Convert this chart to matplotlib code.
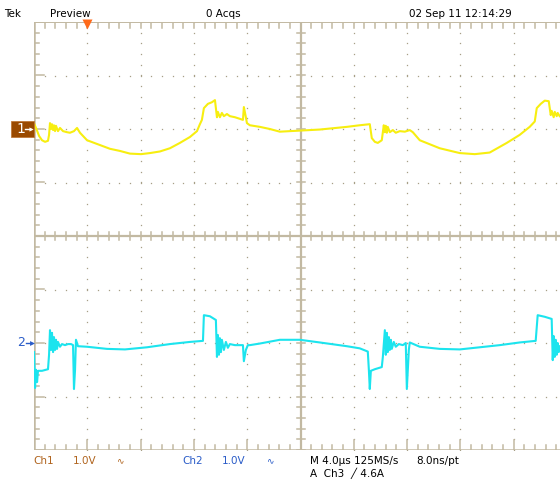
import numpy as np
import matplotlib
matplotlib.use("Agg")
import matplotlib.pyplot as plt
from matplotlib.patches import Rectangle

# ---- acquisition record (time in us from left edge of screen, volts) ----
ch1_t = [0.00, 0.15, 0.38, 0.60, 0.83, 1.05, 1.13, 1.20, 1.28, 1.35, 1.43, 1.50, 1.58, 1.65,
         1.80, 1.95, 2.18, 2.48, 2.70, 3.00, 3.23, 3.45, 3.98, 4.95, 5.70, 6.45, 7.20, 8.03,
         8.70, 9.45, 10.20, 10.95, 11.70, 12.23, 12.45, 12.60, 12.75, 13.05, 13.35, 13.58,
         13.73, 13.80, 13.95, 14.10, 14.25, 14.48, 14.70, 15.08, 15.45, 15.68, 15.75, 15.90,
         15.98, 16.20, 16.95, 17.70, 18.45, 19.95, 21.45, 23.48, 24.45, 25.20, 25.35, 25.58,
         25.80, 26.10, 26.25, 26.33, 26.40, 26.48, 26.55, 26.70, 26.93, 27.15, 27.45, 27.83,
         28.20, 28.43, 28.95, 30.45, 31.95, 33.08, 34.20, 35.48, 36.45, 37.20, 37.58, 37.73,
         38.03, 38.33, 38.63, 38.78, 38.85, 39.00, 39.08, 39.23, 39.30, 39.45]
ch1_v = [0.11, 0.02, -0.13, -0.21, -0.24, -0.22, -0.11, 0.11, 0.00, 0.09, -0.02, 0.07, -0.04, 0.06,
         -0.04, 0.02, -0.04, -0.06, -0.07, -0.04, 0.02, -0.07, -0.21, -0.30, -0.37, -0.41, -0.46, -0.47,
         -0.45, -0.42, -0.36, -0.26, -0.15, -0.04, 0.09, 0.17, 0.39, 0.47, 0.50, 0.54,
         0.22, 0.32, 0.22, 0.30, 0.24, 0.28, 0.24, 0.22, 0.19, 0.17, 0.41, 0.22,
         0.11, 0.07, 0.04, 0.00, -0.05, -0.03, -0.01, 0.04, 0.07, 0.09, -0.17, -0.24,
         -0.26, -0.21, 0.07, -0.06, 0.06, -0.07, 0.04, -0.06, -0.02, -0.07, -0.04, -0.05,
         -0.02, -0.06, -0.21, -0.36, -0.45, -0.47, -0.44, -0.26, -0.11, 0.04, 0.14, 0.39,
         0.47, 0.53, 0.52, 0.26, 0.34, 0.22, 0.32, 0.24, 0.30, 0.24]

ch2_t = [0.00, 0.08, 0.15, 0.23, 0.30, 0.60, 0.90, 1.05, 1.13, 1.20, 1.28, 1.35, 1.43, 1.50,
         1.58, 1.65, 1.73, 1.80, 1.95, 2.10, 2.33, 2.55, 2.78, 2.93, 3.00, 3.08, 3.15, 3.30,
         3.98, 5.48, 6.83, 8.48, 10.20, 11.70, 12.68, 12.75, 13.20, 13.65, 13.73, 13.80,
         13.88, 13.95, 14.03, 14.10, 14.25, 14.40, 14.55, 14.70, 15.08, 15.68, 15.75, 15.90,
         16.05, 16.20, 16.95, 18.45, 19.95, 21.45, 23.48, 24.45, 25.05, 25.13, 25.20, 25.28,
         25.58, 26.10, 26.18, 26.33, 26.40, 26.48, 26.55, 26.63, 26.70, 26.78, 26.85, 27.00,
         27.15, 27.38, 27.68, 27.90, 27.98, 28.13, 28.20, 28.95, 30.45, 31.95, 33.45, 34.95,
         36.45, 37.65, 37.80, 38.33, 38.85, 38.93, 39.00, 39.08, 39.15, 39.23, 39.30, 39.38,
         39.45]
ch2_v = [-0.17, -0.84, -0.50, -0.73, -0.52, -0.52, -0.50, -0.49, -0.22, 0.24, -0.13, 0.19, -0.17, 0.11,
         -0.13, 0.06, -0.11, 0.02, -0.07, -0.02, -0.04, -0.02, -0.02, -0.04, -0.86, -0.50, 0.06, -0.06,
         -0.07, -0.11, -0.12, -0.08, -0.02, 0.02, 0.04, 0.52, 0.50, 0.43, -0.26, 0.15,
         -0.22, 0.09, -0.17, 0.06, -0.13, 0.02, -0.09, -0.02, -0.04, -0.04, -0.34, -0.13,
         -0.04, -0.04, -0.01, 0.06, 0.06, 0.01, -0.06, -0.10, -0.16, -0.50, -0.86, -0.52,
         -0.49, -0.45, -0.26, 0.24, -0.22, 0.19, -0.17, 0.11, -0.13, 0.06, -0.11, 0.02,
         -0.07, -0.02, -0.04, 0.00, -0.86, -0.13, 0.01, -0.07, -0.11, -0.12, -0.08, -0.04,
         0.01, 0.04, 0.52, 0.49, 0.45, -0.32, 0.13, -0.26, 0.06, -0.22, 0.00, -0.17,
         -0.06]

# ---- scope settings ----
time_per_div = 4.0      # us/div
ch1_scale = 1.0         # V/div
ch2_scale = 1.0
ch1_pos = 2.0           # divisions
ch2_pos = -2.0
trigger_time = 4.0      # us from left edge
n_hdiv, n_vdiv = 10, 8

header = ["Tek", "Preview", "0 Acqs", "02 Sep 11 12:14:29"]
footer_ch1 = ["Ch1", "1.0V"]
footer_ch2 = ["Ch2", "1.0V"]
footer_time = ["M 4.0\u00b5s 125MS/s", "8.0ns/pt", "A  Ch3  \u2571 4.6A"]

W, H = 560, 479
fig = plt.figure(figsize=(W / 100, H / 100), dpi=100)
fig.patch.set_facecolor("white")

# graticule area in pixels
gx0, gx1 = 34, 567
gy0, gy1 = 22, 450
ax = fig.add_axes([gx0 / W, 1 - gy1 / H, (gx1 - gx0) / W, (gy1 - gy0) / H])
ax.set_xlim(0, n_hdiv)
ax.set_ylim(-n_vdiv / 2, n_vdiv / 2)
ax.axis("off")

px_x = (gx1 - gx0) / n_hdiv   # pixels per horizontal division
px_y = (gy1 - gy0) / n_vdiv   # pixels per vertical division
grat = "#c2b9a2"
dotc = "#a79f86"

# dotted division lines
minor = np.arange(0, n_hdiv + 0.001, 0.2)
minor_v = np.arange(-4, 4.001, 0.2)
for k in range(1, n_hdiv):
    if k == 5:
        continue
    ax.plot(np.full_like(minor_v, k), minor_v, ls="none", marker="s", ms=0.9,
            mec="none", mfc=dotc)
for k in range(-3, 4):
    if k == 0:
        continue
    ax.plot(minor, np.full_like(minor, k), ls="none", marker="s", ms=0.9,
            mec="none", mfc=dotc)

# solid centre crosshair with small ticks
ax.plot([5, 5], [-4, 4], color=grat, lw=1.6, solid_capstyle="butt")
ax.plot([0, 10], [0, 0], color=grat, lw=1.6, solid_capstyle="butt")
tx = 4 / px_x
ty = 4 / px_y
for x in minor:
    ax.plot([x, x], [-ty, ty], color=grat, lw=1.1)
for y in minor_v:
    ax.plot([5 - tx, 5 + tx], [y, y], color=grat, lw=1.1)

# frame with ticks on left, top, bottom
ax.plot([0, 0], [-4, 4], color=grat, lw=1.8, solid_capstyle="butt")
ax.plot([0, 10], [-4, -4], color=grat, lw=1.8, solid_capstyle="butt")
ax.plot([0, 10], [4, 4], color=grat, lw=1.4, solid_capstyle="butt")
for y in minor_v:
    major = abs(y - round(y)) < 1e-6
    ln = (10 if major else 5) / px_x
    ax.plot([0, ln], [y, y], color=grat, lw=1.1)
for x in minor:
    major = abs(x - round(x)) < 1e-6
    ln = (10 if major else 5) / px_y
    ax.plot([x, x], [-4, -4 + ln], color=grat, lw=1.1)
    ax.plot([x, x], [4, 4 - 6 / px_y], color=grat, lw=1.1)

# traces
t1 = np.array(ch1_t) / time_per_div
t2 = np.array(ch2_t) / time_per_div
ax.plot(t1, np.array(ch1_v) / ch1_scale + ch1_pos, color="#f7ee10", lw=1.5, zorder=5)
ax.plot(t2, np.array(ch2_v) / ch2_scale + ch2_pos, color="#1ce4ee", lw=1.5, zorder=5)

# trigger position marker
ax.plot([trigger_time / time_per_div], [4 - 2 / px_y], marker="v", ms=7.5, color="#ff6a1a",
        mec="none", clip_on=False, zorder=6)

fam = "DejaVu Sans"


def ftext(xp, yp, s, color="black", ha="left", size=7.5):
    fig.text(xp / W, 1 - yp / H, s, color=color, ha=ha, va="center", fontsize=size,
             family=fam)


# header
ftext(4, 14, header[0])
ftext(50, 14, header[1])
ftext(223, 14, header[2], ha="center")
ftext(409, 14, header[3])

# channel 1 ground marker
ch1_y = gy0 + (4 - ch1_pos) * px_y
fig.patches.append(Rectangle((11 / W, 1 - (ch1_y + 8) / H), 23 / W, 16 / H,
                             transform=fig.transFigure, facecolor="#9a4a00",
                             edgecolor="#c07a3a", lw=0.6))
ftext(16, ch1_y, "1", color="white", size=10)
fig.add_artist(plt.Line2D([25 / W, 31 / W], [1 - ch1_y / H] * 2, color="white", lw=1.0))
fig.add_artist(plt.Line2D([31 / W], [1 - ch1_y / H], marker=">", ms=3, color="white",
                          mec="none"))

# channel 2 ground marker
ch2_y = gy0 + (4 - ch2_pos) * px_y
ftext(17, ch2_y, "2", color="#2a5cc8", size=9)
fig.add_artist(plt.Line2D([26 / W, 32 / W], [1 - ch2_y / H] * 2, color="#2a5cc8", lw=1.0))
fig.add_artist(plt.Line2D([32 / W], [1 - ch2_y / H], marker=">", ms=3.5, color="#2a5cc8",
                          mec="none"))

# footer
c1 = "#b0641e"
c2 = "#2a5cc8"
ftext(33, 461, footer_ch1[0], color=c1)
ftext(73, 461, footer_ch1[1], color=c1)
ftext(116, 461, "\u223f", color=c1, size=6.5)
ftext(182, 461, footer_ch2[0], color=c2)
ftext(222, 461, footer_ch2[1], color=c2)
ftext(266, 461, "\u223f", color=c2, size=6.5)
ftext(310, 461, footer_time[0])
ftext(416, 461, footer_time[1])
ftext(310, 473, footer_time[2])

fig.savefig("out.png", dpi=100, facecolor="white")
